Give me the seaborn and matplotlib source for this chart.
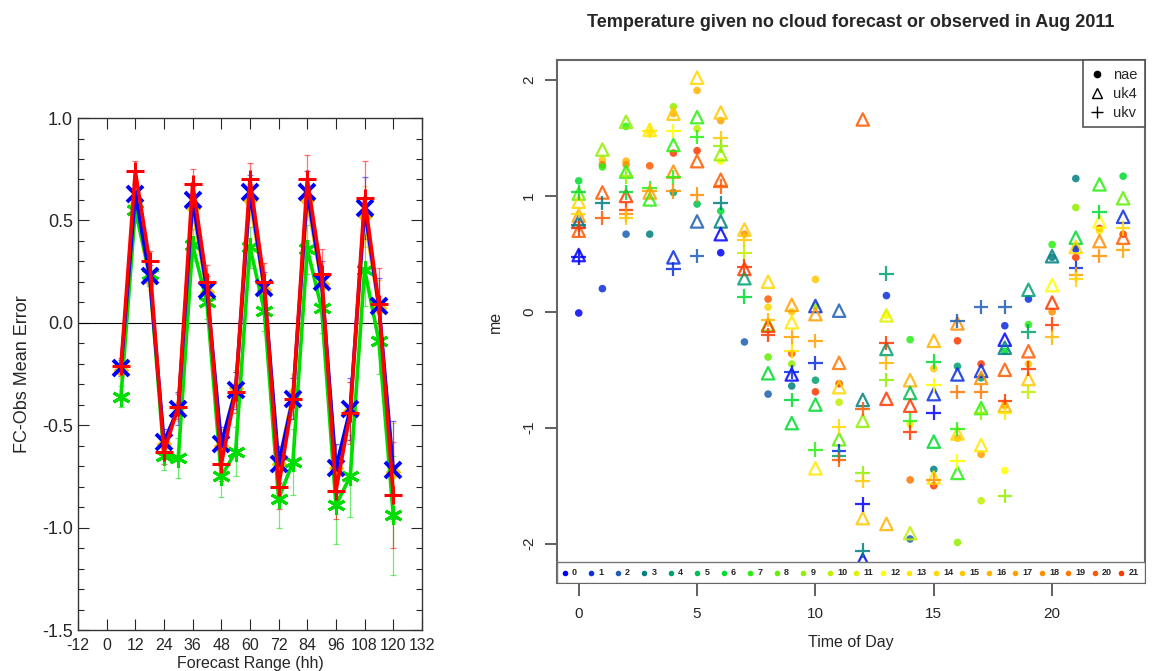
import numpy as np
import pandas as pd
import seaborn as sns
import matplotlib.pyplot as plt
from matplotlib.lines import Line2D
from matplotlib.patches import Rectangle
from matplotlib.ticker import MultipleLocator

sns.set_style('ticks')
plt.rcParams['font.family'] = ['Liberation Sans', 'DejaVu Sans']
plt.rcParams['axes.unicode_minus'] = False

# ---- left panel: mean error by forecast range ----
lead = [6, 12, 18, 24, 30, 36, 42, 48, 54, 60, 66, 72, 78, 84, 90, 96, 102, 108, 114, 120]
me_yellow = [-0.23, 0.57, 0.21, -0.59, -0.41, 0.56, 0.15, -0.60, -0.32, 0.60, 0.16, -0.69, -0.35, 0.60, 0.19, -0.71, -0.43, 0.52, 0.07, -0.73]
me_green = [-0.36, 0.55, 0.24, -0.65, -0.66, 0.38, 0.10, -0.75, -0.63, 0.37, 0.06, -0.86, -0.68, 0.36, 0.07, -0.89, -0.75, 0.26, -0.09, -0.94]
me_blue = [-0.22, 0.63, 0.23, -0.58, -0.42, 0.60, 0.16, -0.59, -0.33, 0.64, 0.17, -0.69, -0.37, 0.64, 0.20, -0.71, -0.42, 0.56, 0.08, -0.72]
me_red = [-0.21, 0.74, 0.30, -0.63, -0.41, 0.68, 0.20, -0.69, -0.34, 0.70, 0.20, -0.80, -0.37, 0.70, 0.24, -0.82, -0.44, 0.61, 0.09, -0.84]
err_yellow = [0.04, 0.05, 0.05, 0.06, 0.07, 0.07, 0.07, 0.08, 0.09, 0.08, 0.08, 0.09, 0.10, 0.10, 0.10, 0.12, 0.14, 0.15, 0.14, 0.24]
err_green = [0.05, 0.06, 0.06, 0.07, 0.10, 0.08, 0.08, 0.10, 0.12, 0.10, 0.10, 0.14, 0.16, 0.12, 0.12, 0.19, 0.20, 0.18, 0.16, 0.29]
err_blue = [0.04, 0.05, 0.05, 0.06, 0.08, 0.07, 0.07, 0.08, 0.09, 0.08, 0.08, 0.09, 0.10, 0.10, 0.10, 0.12, 0.15, 0.15, 0.14, 0.24]
err_red = [0.04, 0.05, 0.05, 0.06, 0.06, 0.07, 0.08, 0.08, 0.10, 0.08, 0.09, 0.11, 0.10, 0.12, 0.12, 0.14, 0.15, 0.18, 0.18, 0.26]

# ---- right panel: me by time of day, per model, coloured by category 0-23 ----
nae_hour = [0, 0, 1, 1, 1, 1, 2, 2, 2, 2, 3, 3, 3, 4, 4, 4, 4, 5, 5, 5, 5, 6, 6, 6, 6, 7, 7,
            8, 8, 8, 8, 9, 9, 9, 9, 10, 10, 10, 10, 11, 11, 13, 13, 14, 14, 14, 14, 15, 15, 15,
            16, 16, 16, 16, 17, 17, 17, 17, 18, 18, 18, 18, 19, 19, 19, 20, 20, 20,
            21, 21, 21, 21, 21, 22, 22, 23, 23]
nae_me = [1.13, -0.01, 1.31, 1.27, 1.25, 0.20, 1.60, 1.30, 1.27, 0.67, 1.26, 0.67, 1.55, 1.77, 1.71, 1.37, 1.03,
          1.91, 1.58, 1.39, 0.93, 1.65, 1.30, 0.87, 0.51, 0.67, -0.26,
          0.11, 0.04, -0.39, -0.71, 0.00, -0.36, -0.45, -0.64, 0.28, 0.05, -0.59, -0.69, -0.62, -0.78,
          0.14, -0.03, -0.24, -0.97, -1.45, -1.96, -0.49, -1.36, -1.50,
          -0.25, -0.47, -1.09, -1.99, -0.45, -0.57, -1.23, -1.63, -0.12, -0.34, -0.81, -1.37,
          0.11, -0.11, -0.45, 0.58, 0.47, 0.00, 1.15, 0.90, 0.56, 0.54, 0.47, 0.72, 0.70, 1.17, 0.67]
nae_cat = [6, 0, 15, 19, 7, 1, 7, 16, 18, 2, 20, 3, 13, 9, 16, 21, 4, 16, 10, 21, 5, 17, 12, 6, 0, 18, 2,
           20, 14, 8, 2, 15, 20, 9, 3, 15, 9, 4, 21, 21, 10,
           1, 12, 7, 13, 19, 2, 15, 3, 21,
           21, 4, 16, 9, 21, 4, 17, 10, 1, 6, 17, 12,
           1, 7, 15, 7, 3, 18, 3, 9, 15, 1, 21, 21, 13, 6, 21]

uk4_hour = [0, 0, 0, 0, 0, 0, 1, 1, 2, 2, 2, 3, 3, 3, 4, 4, 4, 4, 5, 5, 5, 5, 6, 6, 6, 6, 6,
            7, 7, 7, 8, 8, 8, 8, 9, 9, 9, 9, 10, 10, 10, 10, 11, 11, 11, 11,
            12, 12, 12, 12, 12, 13, 13, 13, 13, 14, 14, 14, 14, 15, 15, 15, 15,
            16, 16, 16, 16, 17, 17, 17, 17, 18, 18, 18, 18, 19, 19, 19, 20, 20, 20,
            21, 21, 22, 22, 22, 23, 23, 23]
uk4_me = [1.02, 0.95, 0.83, 0.78, 0.70, 0.49, 1.40, 1.03, 1.64, 1.21, 1.00, 1.57, 1.03, 0.97,
          1.71, 1.44, 1.21, 0.47, 2.02, 1.68, 1.30, 0.78, 1.72, 1.36, 1.14, 0.78, 0.67,
          0.71, 0.37, 0.29, 0.26, -0.11, -0.12, -0.53, 0.06, -0.09, -0.54, -0.96,
          0.05, -0.02, -0.80, -1.35, 0.01, -0.44, -0.65, -1.10,
          1.66, -0.76, -0.94, -1.78, -2.14, -0.03, -0.32, -0.75, -1.83, -0.59, -0.70, -0.81, -1.91,
          -0.25, -0.71, -1.12, -1.43, -0.10, -0.54, -1.05, -1.39, -0.51, -0.57, -0.83, -1.15,
          -0.24, -0.31, -0.50, -0.81, 0.19, -0.34, -0.58, 0.48, 0.23, 0.08,
          0.64, 0.56, 1.10, 0.78, 0.61, 0.98, 0.82, 0.64]
uk4_cat = [8, 14, 17, 2, 20, 0, 9, 20, 9, 7, 21, 13, 17, 7, 15, 7, 18, 1, 14, 7, 20, 2, 15, 9, 20, 3, 0,
           15, 21, 4, 14, 8, 21, 6, 17, 13, 0, 6, 1, 17, 6, 13, 2, 19, 14, 8,
           20, 3, 9, 15, 0, 11, 4, 21, 16, 16, 5, 21, 10,
           16, 1, 6, 13, 18, 1, 14, 7, 1, 18, 7, 13,
           0, 3, 20, 16, 4, 20, 15, 3, 12, 21,
           6, 14, 7, 12, 18, 8, 1, 20]

ukv_hour = [0, 0, 0, 0, 0, 1, 1, 2, 2, 2, 2, 2, 3, 3, 3, 4, 4, 4, 4, 5, 5, 5, 6, 6, 6, 6,
            7, 7, 7, 7, 8, 8, 9, 9, 9, 9, 10, 10, 10, 11, 11, 11, 11,
            12, 12, 12, 12, 12, 13, 13, 13, 13, 14, 14, 15, 15, 15, 15,
            16, 16, 16, 16, 17, 17, 17, 18, 18, 18, 18, 19, 19, 19, 20, 20,
            21, 21, 21, 22, 22, 23, 23]
ukv_me = [1.03, 0.84, 0.75, 0.72, 0.47, 0.94, 0.81, 1.17, 1.03, 0.88, 0.84, 0.81, 1.56, 1.07, 1.04,
          1.56, 1.16, 1.04, 0.37, 1.51, 1.01, 0.48, 1.50, 1.43, 1.08, 0.94,
          0.62, 0.51, 0.39, 0.13, -0.07, -0.20, -0.22, -0.34, -0.52, -0.76, -0.25, -0.44, -1.19,
          -0.99, -1.20, -1.24, -1.28, -0.84, -1.39, -1.46, -1.66, -2.06, 0.33, -0.27, -0.44, -0.59,
          -0.94, -1.04, -0.43, -0.63, -0.87, -1.45, -0.08, -0.69, -1.01, -1.29, 0.04, -0.69, -0.87,
          0.04, -0.77, -0.87, -1.59, -0.17, -0.49, -0.69, -0.11, -0.22,
          0.38, 0.32, 0.28, 0.86, 0.48, 0.72, 0.53]
ukv_cat = [6, 14, 3, 21, 0, 3, 20, 9, 6, 21, 18, 15, 13, 7, 17, 12, 7, 18, 1, 7, 18, 2, 15, 9, 20, 3,
           15, 10, 21, 6, 16, 21, 17, 13, 1, 6, 17, 1, 7, 14, 1, 4, 20,
           20, 9, 15, 0, 3, 4, 21, 16, 9, 7, 21, 6, 12, 0, 18,
           2, 19, 7, 12, 2, 19, 9, 2, 21, 13, 9, 4, 21, 10, 21, 16,
           1, 17, 14, 6, 18, 14, 17]

cat_colours = ['#0000ff', '#0a2ee0', '#1c5fb4', '#00807f', '#00a070', '#00c050', '#00dc30', '#28f010',
               '#60f000', '#90f000', '#c0f000', '#e0f000', '#ffff00', '#ffe800', '#ffd800', '#ffc800',
               '#ffb400', '#ffa000', '#ff9000', '#ff7800', '#ff5a00', '#ff3800', '#ff1800', '#ff0000']
palette = dict(enumerate(cat_colours))

fig = plt.figure(figsize=(11.62, 6.71), dpi=100)
ax1 = fig.add_axes([0.0671, 0.0611, 0.296, 0.763])
ax2 = fig.add_axes([0.4793, 0.1311, 0.506, 0.779])

# left panel
ax1.axhline(0, color='black', lw=0.8, zorder=1)
series = [(me_yellow, err_yellow, '#ffc000', 'D', 7, 1.0),
          (me_green, err_green, '#00dd00', (6, 2, 0), 13, 2.2),
          (me_blue, err_blue, '#0000ff', 'x', 11, 2.8),
          (me_red, err_red, '#ff0000', '+', 13, 2.2)]
for me, err, col, mk, ms, mew in series:
    ax1.errorbar(lead, me, yerr=err, fmt='none', ecolor=col, elinewidth=0.9,
                 capsize=2.5, capthick=0.9, alpha=0.55, zorder=2)
    sns.lineplot(x=lead, y=me, color=col, lw=2.6, marker=mk, markersize=ms,
                 markeredgewidth=mew, markeredgecolor=col, markerfacecolor=col, ax=ax1, zorder=3)
ax1.set_xlim(-12, 132)
ax1.set_ylim(-1.5, 1.0)
ax1.set_xticks(range(-12, 133, 12))
ax1.set_yticks([-1.5, -1.0, -0.5, 0.0, 0.5, 1.0])
ax1.yaxis.set_minor_locator(MultipleLocator(0.1))
ax1.tick_params(direction='in', top=True, right=True, length=8, width=0.8)
ax1.tick_params(which='minor', direction='in', right=True, left=True, length=4, width=0.8)
ax1.tick_params(axis='y', labelsize=13)
ax1.tick_params(axis='x', labelsize=11.5, pad=6)
ax1.set_xlabel('Forecast Range (hh)', fontsize=11.5, labelpad=2)
ax1.set_ylabel('FC-Obs Mean Error', fontsize=13, labelpad=8)
for s in ax1.spines.values():
    s.set_color('#333333')
    s.set_linewidth(1.0)

# right panel
models = [(nae_hour, nae_me, nae_cat, 'o', 30),
          (uk4_hour, uk4_me, uk4_cat, '^', 80),
          (ukv_hour, ukv_me, ukv_cat, '+', 110)]
for hh, me, cat, mk, size in models:
    df = pd.DataFrame({'hour': hh, 'me': me, 'cat': cat})
    sns.scatterplot(data=df, x='hour', y='me', hue='cat', palette=palette, marker=mk, s=size,
                    linewidth=1.6 if mk != 'o' else 0, alpha=0.85, legend=False, ax=ax2, zorder=3)
    if mk == '^':
        coll = ax2.collections[-1]
        coll.set_edgecolors(coll.get_facecolors())
        coll.set_facecolors('none')

ax2.set_xlim(-0.92, 23.92)
ax2.set_ylim(-2.34, 2.17)
ax2.set_xticks([0, 5, 10, 15, 20])
ax2.set_yticks([-2, -1, 0, 1, 2])
ax2.tick_params(direction='out', length=9, width=1.2, color='#444444', labelsize=11, pad=8)
ax2.tick_params(axis='y', labelrotation=90, pad=6)
for lab in ax2.get_yticklabels():
    lab.set_va('center')
ax2.set_xlabel('Time of Day', fontsize=11.5, labelpad=10)
ax2.set_ylabel('me', fontsize=11.5, labelpad=14)
ax2.set_title('Temperature given no cloud forecast or observed in Aug 2011',
              fontsize=13, fontweight='bold', pad=24)
for s in ax2.spines.values():
    s.set_color('#666666')
    s.set_linewidth(1.5)

# model legend (top right)
handles = [Line2D([], [], ls='', marker='o', ms=4.5, color='black'),
           Line2D([], [], ls='', marker='^', ms=7, mfc='none', mec='black', mew=1.0),
           Line2D([], [], ls='', marker='+', ms=9, color='black', mew=1.0)]
leg = ax2.legend(handles, ['nae', 'uk4', 'ukv'], loc='upper right', borderaxespad=0,
                 fontsize=10.5, frameon=True, fancybox=False, edgecolor='#555555', framealpha=1,
                 handlelength=1.0, handletextpad=0.6, borderpad=0.5, labelspacing=0.35)
leg.get_frame().set_linewidth(1.2)
leg.set_zorder(10)

# category strip along the bottom, cut at the right edge like the original
strip_h = 21 / 523
ax2.add_patch(Rectangle((0, 0), 1, strip_h, transform=ax2.transAxes, fc='white',
                        ec='#777777', lw=1.0, zorder=8))
step = 26.5 / 588
x0 = 8 / 588
for i, col in enumerate(cat_colours):
    xi = x0 + i * step
    if xi > 1.02:
        break
    ax2.plot(xi, strip_h / 2, 'o', ms=3, color=col, transform=ax2.transAxes, zorder=9, clip_on=True)
    if xi + 0.035 < 1:
        ax2.text(xi + 0.012, strip_h / 2, str(i), fontsize=6.5, fontweight='bold', va='center',
                 transform=ax2.transAxes, zorder=9)

fig.savefig('out.png', dpi=100)
